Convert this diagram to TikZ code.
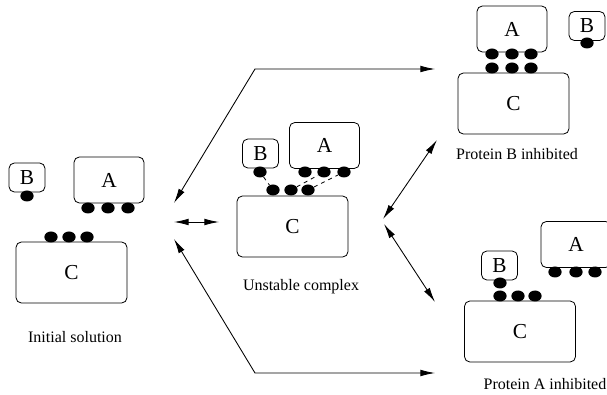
\documentclass[tikz,border=0pt]{standalone}
\usepackage{fontspec}
\setmainfont{Liberation Serif}
\usetikzlibrary{arrows.meta,shapes.geometric}

\tikzset{
  protbox/.style={draw, rounded corners=4pt, line width=0.6pt, inner sep=0pt,
    font=\fontsize{16}{18}\selectfont},
  bbox/.style={protbox, minimum width=27pt, minimum height=21.75pt},
  abox/.style={protbox, minimum width=52.5pt, minimum height=34.5pt},
  cbox/.style={protbox, minimum width=83.25pt, minimum height=45.75pt},
  site/.style={ellipse, fill=black, inner sep=0pt, minimum width=10pt, minimum height=8.25pt},
  caption/.style={font=\fontsize{12}{14}\selectfont},
  react/.style={line width=0.65pt, {Latex[length=11pt,width=5pt]}-{Latex[length=11pt,width=5pt]}}
}

\begin{document}
\begin{tikzpicture}[x=0.75pt, y=-0.75pt]
    \useasboundingbox (0,0) rectangle (607,395);

    % Initial solution
    \node[bbox] (iB) at (27,177.5) {B};
    \node[abox] (iA) at (109,180) {A};
    \node[cbox] (iC) at (71.5,272.5) {C};
    \node[site] (iB1) at (27,196) {};
    \node[site] (iA1) at (88,208) {};
    \node[site] (iA2) at (108,208) {};
    \node[site] (iA3) at (128,208) {};
    \node[site] (iC1) at (51,237) {};
    \node[site] (iC2) at (69,237) {};
    \node[site] (iC3) at (87,237) {};
    \node[caption] (icap) at (75,337) {Initial solution};

    % Unstable complex
    \node[bbox] (uB) at (260.5,153.5) {B};
    \node[abox] (uA) at (324.5,145.5) {A};
    \node[cbox] (uC) at (292.5,226.5) {C};
    \node[site] (uB1) at (260,172) {};
    \node[site] (uA1) at (305,172) {};
    \node[site] (uA2) at (324,172) {};
    \node[site] (uA3) at (344,172) {};
    \node[site] (uC1) at (273,190) {};
    \node[site] (uC2) at (291,190) {};
    \node[site] (uC3) at (308,190) {};
    \node[caption] (ucap) at (301,287) {Unstable complex};

    % weak bonds
    \draw[dashed, line width=0.6pt] (uB1) -- (uC1);
    \draw[dashed, line width=0.6pt] (uC2) -- (uA2);
    \draw[dashed, line width=0.6pt] (uC3) -- (uA3);

    % Protein B inhibited
    \node[abox] (bA) at (512,29) {A};
    \node[bbox] (bB) at (587,26) {B};
    \node[cbox] (bC) at (513.5,103.5) {C};
    \node[site] (bB1) at (587,43) {};
    \node[site] (bA1) at (492,54) {};
    \node[site] (bA2) at (512,54) {};
    \node[site] (bA3) at (531,54) {};
    \node[site] (bC1) at (492,68) {};
    \node[site] (bC2) at (512,68) {};
    \node[site] (bC3) at (531,68) {};
    \node[caption] (bcap) at (517,154) {Protein B inhibited};

    % Protein A inhibited
    \node[abox] (aA) at (576,244.5) {A};
    \node[bbox] (aB) at (499.5,265.5) {B};
    \node[cbox] (aC) at (520,331.5) {C};
    \node[site] (aA1) at (555,272) {};
    \node[site] (aA2) at (576,272) {};
    \node[site] (aA3) at (595,272) {};
    \node[site] (aB1) at (500,283) {};
    \node[site] (aC1) at (500,296) {};
    \node[site] (aC2) at (518,296) {};
    \node[site] (aC3) at (535,296) {};
    \node[caption] (acap) at (545,384) {Protein A inhibited};

    % Reaction arrows
    \coordinate (iTop) at (174,203);
    \coordinate (iMid) at (174,222);
    \coordinate (iBot) at (174,239);
    \coordinate (uLeft) at (219,222);
    \coordinate (uUp) at (383,219);
    \coordinate (uDown) at (384,224);
    \coordinate (kTop) at (255,69);
    \coordinate (kBot) at (255,373);
    \coordinate (bIn) at (435,69);
    \coordinate (bSide) at (437,140);
    \coordinate (aSide) at (435,302);
    \coordinate (aIn) at (435,373);

    \draw[react] (iTop) -- (kTop) -- (bIn);
    \draw[react] (iBot) -- (kBot) -- (aIn);
    \draw[react] (iMid) -- (uLeft);
    \draw[react] (uUp) -- (bSide);
    \draw[react] (uDown) -- (aSide);

\end{tikzpicture}
\end{document}
